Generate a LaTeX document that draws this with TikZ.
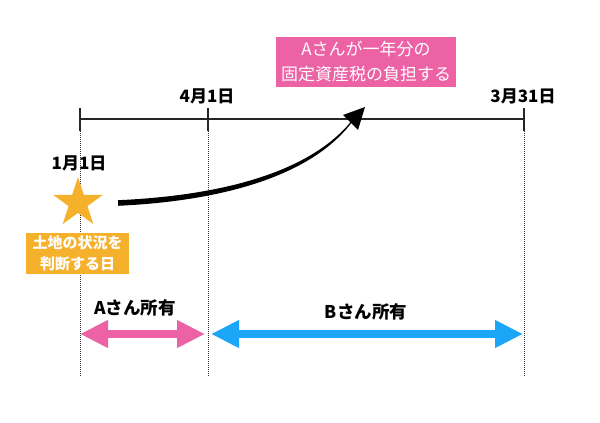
\documentclass[tikz,border=0pt]{standalone}
\usepackage{fontspec}
\setmainfont{Noto Sans CJK JP}
\usetikzlibrary{arrows.meta,shapes.geometric}
\definecolor{pinkc}{HTML}{EC62A5}
\definecolor{bluec}{HTML}{1CA6F8}
\definecolor{orangec}{HTML}{F5B02C}
\tikzset{
  datelbl/.style={font=\fontsize{17}{19}\selectfont\bfseries, inner sep=0pt},
  ownlbl/.style={font=\fontsize{17.5}{19}\selectfont\bfseries, inner sep=0pt},
  guide/.style={line width=0.9pt, dash pattern=on 1pt off 1pt, black!80},
  tline/.style={line width=1.4pt, black!85},
  own/.style={line width=8pt, {Triangle[length=28pt,width=26pt]}-{Triangle[length=28pt,width=26pt]}},
}
\begin{document}
\begin{tikzpicture}[x=1pt,y=-1pt]
\useasboundingbox (0,0) rectangle (600,423);
% timeline
\coordinate (t0) at (80,119);
\coordinate (t1) at (208,119);
\coordinate (t2) at (524,119);
\draw[tline] (t0) -- (t2);
\draw[tline] (80,108) -- (80,131);
\draw[tline] (208,108) -- (208,131);
\draw[tline] (524,108) -- (524,131);
% dotted guides
\coordinate (g0) at (80,377);
\coordinate (g1) at (208,377);
\coordinate (g2) at (524,377);
\draw[guide] (80,131) -- (g0);
\draw[guide] (208,131) -- (g1);
\draw[guide] (524,131) -- (g2);
% date labels
\node[datelbl] (d2) at (207,96) {4月1日};
\node[datelbl] (d3) at (523,96) {3月31日};
\node[datelbl] (d1) at (79,163) {1月1日};
% star
\node[star, star points=5, star point ratio=2.618, minimum size=52pt, inner sep=0pt, fill=orangec, draw=none] (st) at (78,203) {};
% orange box
\node[fill=orangec, text=white, minimum width=103pt, minimum height=41pt, inner sep=0pt, align=center,
      font=\fontsize{15}{21}\selectfont\bfseries] (ob) at (77.5,253) {土地の状況を\\判断する日};
% pink box
\node[fill=pinkc, text=white, minimum width=180pt, minimum height=50pt, inner sep=0pt, align=center,
      font=\fontsize{17}{25}\selectfont] (pb) at (366,62) {Aさんが一年分の\\固定資産税の負担する};
% curved tapered arrow
\coordinate (cs) at (118,203);
\coordinate (ce) at (351,122);
\coordinate (tip) at (365,107);
\fill[black] (118,200.2) .. controls (212,196) and (306,176) .. (351,121.6)
   -- (351.8,122.4) .. controls (308,180) and (212,201.5) .. (118,205.8) -- cycle;
\fill[black] (tip) -- (343,115) -- (358,130) -- cycle;
% ownership arrows
\coordinate (a0) at (80,334);
\coordinate (a1) at (205,334);
\coordinate (b0) at (211,334);
\coordinate (b1) at (523,334);
\draw[own, pinkc] (a0) -- (a1);
\draw[own, bluec] (b0) -- (b1);
\node[ownlbl] (la) at (135,308) {Aさん所有};
\node[ownlbl] (lb) at (366,312) {Bさん所有};
\end{tikzpicture}
\end{document}
